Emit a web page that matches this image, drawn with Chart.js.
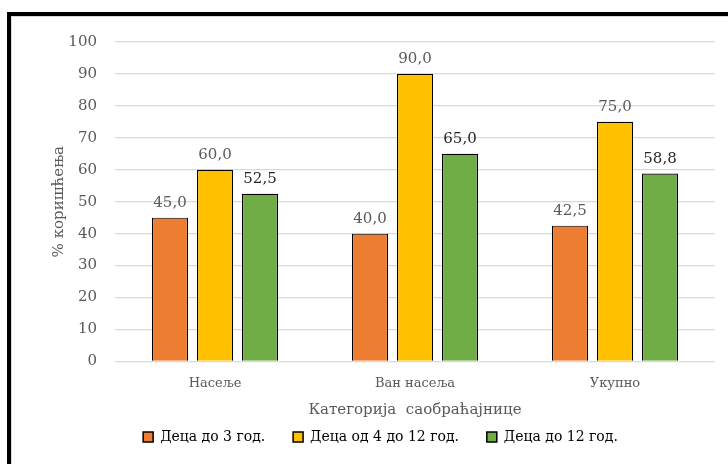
<!DOCTYPE html>
<html>
<head>
<meta charset="utf-8">
<script src="https://cdn.jsdelivr.net/npm/chart.js@4"></script>
<style>
  body { margin: 0; background: #fff; }
  #wrap { position: relative; width: 728px; height: 464px; overflow: hidden; }
  #frame { position: absolute; left: 7px; top: 12px; right: -20px; bottom: -20px;
           border-left: 4px solid #000; border-top: 4px solid #000; }
  #inner { position: absolute; left: 11px; top: 16px; right: -20px; bottom: -20px;
           border-left: 1px solid #d9d9d9; border-top: 1px solid #d9d9d9; }
  canvas { position: absolute; left: 0; top: 0; }
</style>
</head>
<body>
<div id="wrap">
  <canvas id="chart" width="728" height="464"></canvas>
  <div id="inner"></div>
  <div id="frame"></div>
</div>
<script>
const categories = ['Насеље', 'Ван насеља', 'Укупно'];
const seriesNames = ['Деца до 3 год.', 'Деца од 4 до 12 год.', 'Деца до 12 год.'];
const under3 = [45.0, 40.0, 42.5];
const from4to12 = [60.0, 90.0, 75.0];
const under12 = [52.5, 65.0, 58.8];
const yTicks = [0, 10, 20, 30, 40, 50, 60, 70, 80, 90, 100];

const colors = ['#ED7D31', '#FFC000', '#70AD47'];
const labelColors = ['#595959', '#595959', '#262626'];
const font = "'DejaVu Serif', serif";
const gap = '\u00a0\u00a0\u00a0\u00a0';

// value labels above each bar
const barLabels = {
  id: 'barLabels',
  afterDatasetsDraw(chart) {
    const ctx = chart.ctx;
    ctx.save();
    ctx.font = '15px ' + font;
    ctx.textAlign = 'center';
    ctx.textBaseline = 'bottom';
    chart.data.datasets.forEach((ds, i) => {
      const meta = chart.getDatasetMeta(i);
      meta.data.forEach((bar, j) => {
        ctx.fillStyle = labelColors[i];
        ctx.fillText(ds.data[j].toFixed(1).replace('.', ','), bar.x, bar.y - 7);
      });
    });
    ctx.restore();
  }
};

new Chart(document.getElementById('chart'), {
  type: 'bar',
  data: {
    labels: categories,
    datasets: [under3, from4to12, under12].map((d, i) => ({
      label: seriesNames[i],
      data: d,
      backgroundColor: colors[i],
      borderColor: '#000',
      borderWidth: 1.2,
      categoryPercentage: 0.675,
      barPercentage: 0.8
    }))
  },
  options: {
    responsive: false,
    animation: false,
    layout: { padding: { left: 46, right: 13, top: 42, bottom: 10 } },
    plugins: {
      legend: {
        position: 'bottom',
        labels: {
          font: { family: font, size: 14 },
          color: '#404040',
          boxWidth: 10,
          boxHeight: 10,
          padding: 10,
          generateLabels(chart) {
            return chart.data.datasets.map((ds, i) => ({
              text: ds.label + (i < 2 ? gap : ''),
              fillStyle: colors[i],
              strokeStyle: '#000',
              lineWidth: 1.5,
              datasetIndex: i
            }));
          }
        }
      },
      tooltip: { enabled: false }
    },
    scales: {
      x: {
        grid: { display: false },
        border: { display: false },
        ticks: { font: { family: font, size: 13 }, color: '#595959', padding: 6 },
        title: { display: true, text: 'Категорија  саобраћајнице',
                 font: { family: font, size: 15 }, color: '#595959', padding: { top: 4, bottom: 1 } }
      },
      y: {
        min: 0, max: 100,
        afterBuildTicks(axis) { axis.ticks = yTicks.map(v => ({ value: v })); },
        afterFit(axis) { axis.width = 69; },
        grid: { color: '#d9d9d9', lineWidth: 1.3, drawTicks: false },
        border: { display: false },
        ticks: { font: { family: font, size: 15 }, color: '#595959', padding: 18 },
        title: { display: true, text: '% коришћења',
                 font: { family: font, size: 15 }, color: '#595959', padding: { bottom: 0 } }
      }
    }
  },
  plugins: [barLabels]
});
</script>
</body>
</html>
